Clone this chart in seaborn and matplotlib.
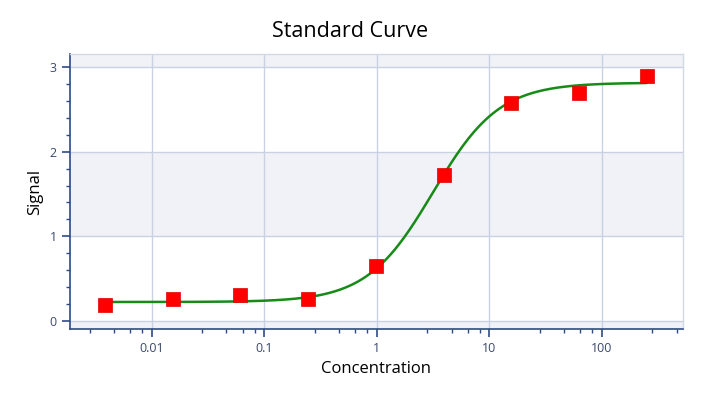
import numpy as np
import pandas as pd
import seaborn as sns
import matplotlib.pyplot as plt
from matplotlib.ticker import FixedLocator, FuncFormatter

# standard points (4-fold dilution series)
concentration = [0.0038, 0.0153, 0.061, 0.244, 0.977, 3.91, 15.6, 62.5, 250]
signal = [0.18, 0.25, 0.30, 0.26, 0.65, 1.72, 2.58, 2.70, 2.90]

# 4PL fit parameters
fit_bottom = 0.22
fit_top = 2.82
fit_ec50 = 3.15
fit_hill = 1.48

x_ticks = [0.01, 0.1, 1, 10, 100]
y_ticks = [0, 1, 2, 3]

GRID = "#c9d2e2"
SPINE = "#2e4a86"
TICKTXT = "#3b4a6b"
BAND = "#f0f2f7"


def four_pl(x):
    return fit_top + (fit_bottom - fit_top) / (1 + (x / fit_ec50) ** fit_hill)


def main():
    sns.set_style("white")
    plt.rcParams['font.family'] = ['Open Sans', 'DejaVu Sans']

    df = pd.DataFrame({"Concentration": concentration, "Signal": signal})
    xs = np.logspace(np.log10(min(concentration)), np.log10(max(concentration)), 300)
    curve = pd.DataFrame({"Concentration": xs, "Signal": four_pl(xs)})

    fig = plt.figure(figsize=(7.2, 4), dpi=100)
    ax = fig.add_axes([0.0972, 0.1775, 0.8514, 0.6875])
    ax.set_xscale("log")
    ax.set_xlim(0.00187, 525)
    ax.set_ylim(-0.1, 3.16)

    # alternating bands between major gridlines
    for lo, hi in [(-0.1, 0), (1, 2), (3, 3.16)]:
        ax.axhspan(lo, hi, color=BAND, zorder=0, lw=0)

    sns.lineplot(data=curve, x="Concentration", y="Signal", ax=ax,
                 color="#178a17", lw=1.8, zorder=3)
    sns.scatterplot(data=df, x="Concentration", y="Signal", ax=ax,
                    marker="s", s=95, color="#ff0000", edgecolor="#e00000",
                    linewidth=0.5, zorder=4)

    ax.xaxis.set_major_locator(FixedLocator(x_ticks))
    ax.xaxis.set_major_formatter(FuncFormatter(lambda v, p: f"{v:g}"))
    minors = [10.0 ** d * (1 + 1.8 * k) for d in range(-3, 3) for k in range(1, 5)]
    ax.xaxis.set_minor_locator(FixedLocator(minors))
    ax.yaxis.set_major_locator(FixedLocator(y_ticks))
    ax.yaxis.set_minor_locator(FixedLocator([v / 5 for v in range(0, 16) if v % 5]))

    ax.grid(True, which="major", color=GRID, lw=1, zorder=1)
    ax.set_axisbelow(True)

    for side in ["top", "right"]:
        ax.spines[side].set_color("#d3d9e4")
        ax.spines[side].set_linewidth(1)
    for side in ["left", "bottom"]:
        ax.spines[side].set_color(SPINE)
        ax.spines[side].set_linewidth(1.2)

    ax.tick_params(which="major", direction="out", length=6, width=1.2,
                   color=SPINE, labelcolor=TICKTXT, labelsize=9, left=True, bottom=True)
    ax.tick_params(which="minor", direction="out", length=3, width=1,
                   color=SPINE, left=True, bottom=True)

    fig.text(0.486, 0.922, "Standard Curve", fontsize=15.5, color="black",
             ha="center", va="center")
    ax.set_xlabel("Concentration", fontsize=12, labelpad=4, color="black")
    ax.set_ylabel("Signal", fontsize=12, labelpad=5, color="black")

    fig.savefig("out.png", dpi=100)


if __name__ == '__main__':
    main()
